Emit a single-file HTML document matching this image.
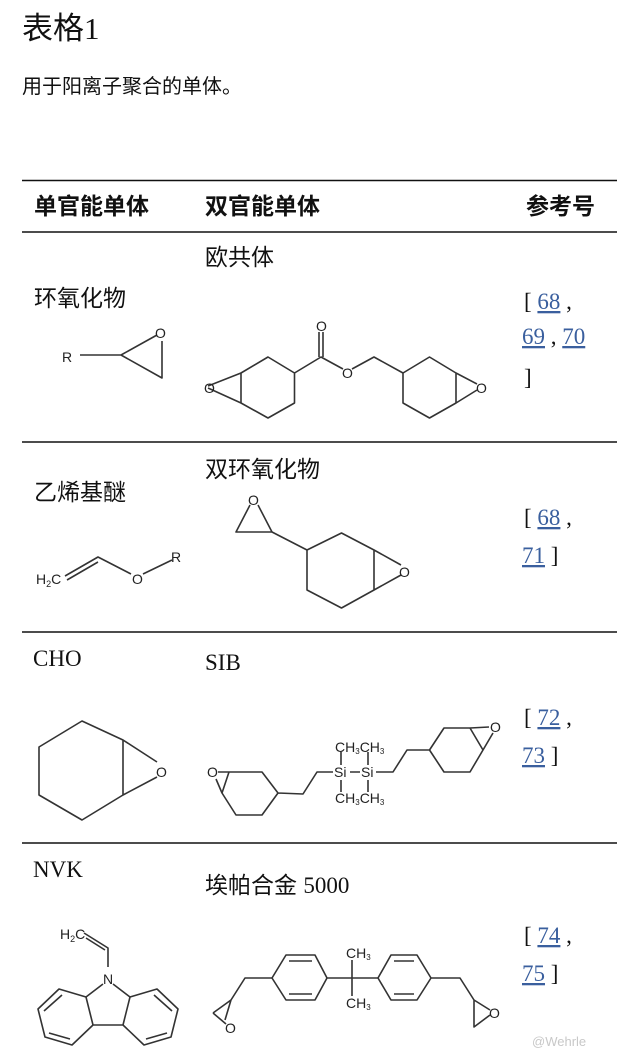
<!DOCTYPE html>
<html><head><meta charset="utf-8"><style>
html,body{margin:0;padding:0;background:#fff;}
svg{display:block}
.cj{font-family:"Liberation Sans","Noto Sans CJK SC",sans-serif;fill:#111}
.sr{font-family:"Liberation Serif","Noto Serif CJK SC",serif;fill:#111}
.ch{font-family:"Liberation Sans",sans-serif;fill:#222;font-size:14px}
.lk{fill:#3a5f9e;text-decoration:underline}
.b{stroke:#333;stroke-width:1.6;fill:none;stroke-linejoin:round}
</style></head><body>
<svg width="640" height="1063" viewBox="0 0 640 1063" xmlns="http://www.w3.org/2000/svg">
<text x="22" y="39" class="cj" font-size="31">表格<tspan class="sr" font-family="Liberation Serif">1</tspan></text>
<text x="22" y="93" class="cj" font-size="20">用于阳离子聚合的单体。</text>
<line x1="22" y1="180.5" x2="617" y2="180.5" stroke="#111" stroke-width="1.6"/>
<line x1="22" y1="232" x2="617" y2="232" stroke="#111" stroke-width="1.6"/>
<line x1="22" y1="442" x2="617" y2="442" stroke="#111" stroke-width="1.6"/>
<line x1="22" y1="632" x2="617" y2="632" stroke="#111" stroke-width="1.6"/>
<line x1="22" y1="843" x2="617" y2="843" stroke="#111" stroke-width="1.6"/>
<g class="cj" font-size="23" font-weight="bold">
<text x="34" y="214">单官能单体</text><text x="205" y="214">双官能单体</text><text x="526" y="214">参考号</text>
</g>
<g class="cj" font-size="23">
<text x="34" y="306">环氧化物</text><text x="205" y="265">欧共体</text>
<text x="34" y="500">乙烯基醚</text><text x="205" y="477">双环氧化物</text>
<text x="205" y="893">埃帕合金 <tspan font-family="Liberation Serif">5000</tspan></text>
</g>
<g class="sr" font-size="23">
<text x="33" y="666">CHO</text><text x="205" y="670">SIB</text><text x="33" y="877">NVK</text>
<text x="524" y="309">[ <tspan class="lk">68</tspan> ,</text>
<text x="522" y="344"><tspan class="lk">69</tspan> , <tspan class="lk">70</tspan></text>
<text x="524" y="385">]</text>
<text x="524" y="525">[ <tspan class="lk">68</tspan> ,</text>
<text x="522" y="563"><tspan class="lk">71</tspan> ]</text>
<text x="524" y="725">[ <tspan class="lk">72</tspan> ,</text>
<text x="522" y="763"><tspan class="lk">73</tspan> ]</text>
<text x="524" y="943">[ <tspan class="lk">74</tspan> ,</text>
<text x="522" y="981"><tspan class="lk">75</tspan> ]</text>
</g>
<!-- row1 epoxide -->
<text x="62" y="362" class="ch" font-size="19">R</text>
<path class="b" d="M80 355 L121 355 L157 335 M162 341 L162 378 L121 355"/>
<text x="155" y="338" class="ch" font-size="19">O</text>
<!-- ester -->
<path class="b" d="M268 357 L294.5 373 L294.5 403 L268 418 L241 403 L241 373 Z M241 373 L208 386 M241 403 L208 388"/>
<text x="204" y="393" class="ch">O</text>
<path class="b" d="M294.5 373 L321 357 L343 369 M352 369 L374 357 L403 373 M319 357 L319 332 M323 357 L323 332"/>
<text x="316" y="331" class="ch">O</text>
<text x="342" y="378" class="ch">O</text>
<path class="b" d="M403 373 L429.5 357 L456 373 L456 403 L429.5 418 L403 403 Z M456 373 L477 384 M456 403 L477 390"/>
<text x="476" y="393" class="ch">O</text>
<!-- vinyl ether -->
<text x="36" y="584" class="ch" font-size="12">H<tspan font-size="9" dy="3">2</tspan><tspan dy="-3">C</tspan></text>
<path class="b" d="M65 576 L98 557 L131 574 M67 580 L98 562 M143 574 L172 560"/>
<text x="132" y="584" class="ch" font-size="13">O</text>
<text x="171" y="562" class="ch" font-size="12">R</text>
<!-- bicyclic epoxide -->
<text x="248" y="505" class="ch" font-size="15">O</text>
<path class="b" d="M250 505 L236 532 L272 532 L258 505 M272 532 L307 550"/>
<path class="b" d="M307 550 L341.5 533 L374 550 L374 590 L341.5 608 L307 590 Z M374 550 L401 565 M374 590 L401 575"/>
<text x="399" y="577" class="ch" font-size="17">O</text>
<!-- CHO -->
<path class="b" d="M82 721 L123 740 L123 795 L82 820 L39 795 L39 747 Z M123 740 L157 762 M123 795 L157 777"/>
<text x="156" y="777" class="ch" font-size="20">O</text>
<!-- SIB -->
<text x="207" y="777" class="ch" font-size="13">O</text>
<path class="b" d="M218 772 L229 772 L262 772 L278 793 L262 815 L236 815 L222 793 L229 772 M222 793 L216 779 M278 793 L303 794 L317 772 L333 772 M350 772 L360 772 M376 772 L393 772 L407 750 L429.5 750 L444 728 L470 728 L483 750 L470 772 L444 772 L429.5 750 M470 728 L489 727 M483 750 L493 733"/>
<text x="334" y="777" class="ch" font-size="13">Si</text><text x="361" y="777" class="ch" font-size="13">Si</text>
<path class="b" d="M341 752 L341 765 M368 752 L368 765 M341 780 L341 792 M368 780 L368 792"/>
<text x="335" y="752" class="ch" font-size="12">CH<tspan font-size="8" dy="2">3</tspan><tspan dy="-2">CH</tspan><tspan font-size="8" dy="2">3</tspan></text>
<text x="335" y="803" class="ch" font-size="12">CH<tspan font-size="8" dy="2">3</tspan><tspan dy="-2">CH</tspan><tspan font-size="8" dy="2">3</tspan></text>
<text x="490" y="732" class="ch" font-size="13">O</text>
<!-- NVK -->
<text x="60" y="939" class="ch" font-size="12">H<tspan font-size="9" dy="3">2</tspan><tspan dy="-3">C</tspan></text>
<path class="b" d="M84 933 L108 948 L108 967 M86 938 L105 950"/>
<text x="103" y="984" class="ch" font-size="13">N</text>
<path class="b" d="M103 984 L86 997 M113 984 L130 997 M86 997 L93 1025 L123 1025 L130 997 M86 997 L59 989 L38 1009 L45 1037 L72 1045 L93 1025 M130 997 L157 989 L178 1009 L171 1037 L144 1045 L123 1025 M62 995 L44 1011 M49 1033 L70 1039 M154 995 L172 1011 M167 1033 L146 1039"/>
<!-- Epon -->
<path class="b" d="M213 1013 L231 1000 L225 1020 M213 1013 L226 1024 M231 1000 L245 978 L272 978"/>
<path class="b" d="M272 978 L286 955 L315 955 L327 978 L315 1000 L286 1000 Z M289 961 L312 961 M289 994 L312 994 M327 978 L378 978 M352 960 L352 996"/>
<path class="b" d="M378 978 L391 955 L417 955 L431 978 L417 1000 L391 1000 Z M394 961 L414 961 M394 994 L414 994 M431 978 L460 978 L474 1000 L474 1027 L490 1015 M474 1000 L490 1010"/>
<text x="225" y="1033" class="ch" font-size="13">O</text>
<text x="346" y="958" class="ch" font-size="12">CH<tspan font-size="8" dy="2">3</tspan></text>
<text x="346" y="1008" class="ch" font-size="12">CH<tspan font-size="8" dy="2">3</tspan></text>
<text x="489" y="1018" class="ch" font-size="13">O</text>
<text x="532" y="1046" font-family="Liberation Sans,Noto Sans CJK SC,sans-serif" font-size="13" fill="#c8c8c8">@Wehrle</text>
</svg>
</body></html>
